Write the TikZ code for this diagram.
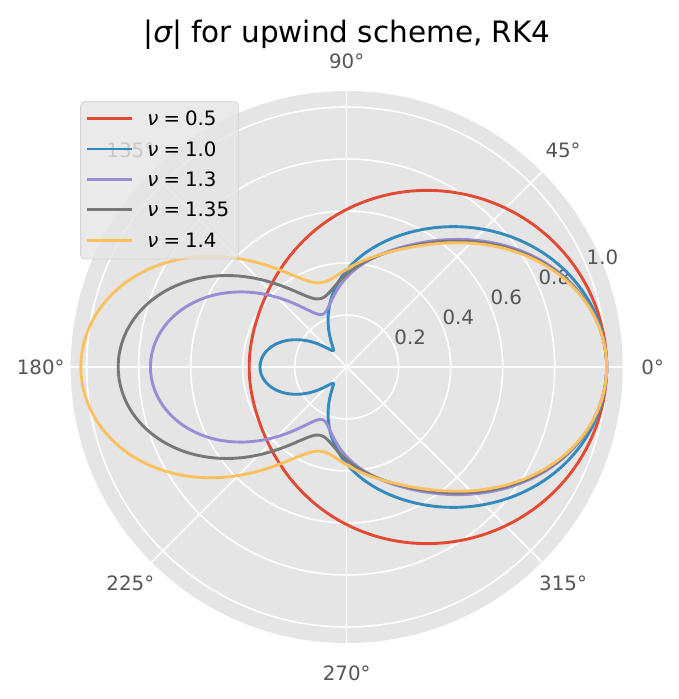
\documentclass[tikz,border=0pt]{standalone}
\usepackage{fontspec}
\setmainfont{DejaVu Sans}
\definecolor{bg}{HTML}{E5E5E5}
\definecolor{ticktxt}{HTML}{555555}
\definecolor{legedge}{HTML}{CCCCCC}
\definecolor{cred}{HTML}{E24A33}
\definecolor{cblue}{HTML}{348ABD}
\definecolor{cpurple}{HTML}{988ED5}
\definecolor{cgray}{HTML}{777777}
\definecolor{cyellow}{HTML}{FBC15E}
\tikzset{
  gridline/.style={draw=white, line width=1.6pt},
  curve/.style={line width=2.9pt, line join=round},
  ticklab/.style={text=ticktxt, font=\fontsize{19.8}{22}\selectfont, inner sep=0pt},
  legtxt/.style={text=black, font=\fontsize{19.8}{22}\selectfont, inner sep=0pt, anchor=base west},
  legline/.style={line width=2.9pt},
}
\newcommand{\nulab}[1]{{\itshape ν}\hspace{0.25em}=\hspace{0.25em}#1}
\begin{document}
\begin{tikzpicture}[x=1pt,y=1pt,
  declare function={
    Rr(\s,\m)=2*\m*sin(\s/2);
    SA(\s,\a)=1-\a*sin(\s/2)-\a*\a*cos(\s)/2+\a*\a*\a*sin(1.5*\s)/6+\a*\a*\a*\a*cos(2*\s)/24;
    SB(\s,\a)=\a*cos(\s/2)-\a*\a*sin(\s)/2-\a*\a*\a*cos(1.5*\s)/6+\a*\a*\a*\a*sin(2*\s)/24;
    MG(\a,\b)=sqrt((\a)*(\a)+(\b)*(\b));
    SG(\s,\m)=MG(SA(\s,Rr(\s,\m)),SB(\s,Rr(\s,\m)));
  }]
\useasboundingbox (-346.7,-332) rectangle (332.3,367);
\fill[white] (-346.7,-332) rectangle (332.3,367);
% polar background
\fill[bg] (0,0) circle[radius=276];
\foreach \rr in {52,104,156,208,260} \draw[gridline] (0,0) circle[radius=\rr];
\foreach \ang in {0,45,...,315} \draw[gridline] (0,0) -- (\ang:276);
% angular labels
\foreach \ang in {0,45,...,315} \node[ticklab] (ang\ang) at (\ang:306) {\ang°};
% radial labels
\foreach \rv in {0.2,0.4,0.6,0.8,1.0}
  \node[ticklab, xshift=15.5pt, yshift=10pt] (rad\rv) at (22.5:{\rv*260}) {\rv};
% curves
\draw[curve, cred] plot[domain=0:360, samples=721] (\x:{260*SG(\x,0.5)}) -- cycle;
\draw[curve, cblue] plot[domain=0:360, samples=721] (\x:{260*SG(\x,1.0)}) -- cycle;
\draw[curve, cpurple] plot[domain=0:360, samples=721] (\x:{260*SG(\x,1.3)}) -- cycle;
\draw[curve, cgray] plot[domain=0:360, samples=721] (\x:{260*SG(\x,1.35)}) -- cycle;
\draw[curve, cyellow] plot[domain=0:360, samples=721] (\x:{260*SG(\x,1.4)}) -- cycle;
% title
\node[inner sep=0pt, anchor=base, font=\fontsize{29.5}{34}\selectfont] (title) at (0.3,324.3)
  {|{\itshape σ}| for upwind scheme, RK4};
% legend
\node[draw=legedge, fill=bg, fill opacity=0.8, draw opacity=0.8, rounded corners=4pt,
      line width=0.9pt, minimum width=157.6pt, minimum height=157.3pt, inner sep=0pt]
      (legend) at (-187.2,186.65) {};
\coordinate (l1a) at (-259.4,248.7); \coordinate (l1b) at (-215,248.7);
\coordinate (l2a) at (-259.4,218.0); \coordinate (l2b) at (-215,218.0);
\coordinate (l3a) at (-259.4,187.7); \coordinate (l3b) at (-215,187.7);
\coordinate (l4a) at (-259.4,157.7); \coordinate (l4b) at (-215,157.7);
\coordinate (l5a) at (-259.4,126.7); \coordinate (l5b) at (-215,126.7);
\draw[legline, cred] (l1a) -- (l1b);
\draw[legline, cblue] (l2a) -- (l2b);
\draw[legline, cpurple] (l3a) -- (l3b);
\draw[legline, cgray] (l4a) -- (l4b);
\draw[legline, cyellow] (l5a) -- (l5b);
\node[legtxt] (t1) at (-199.4,241.5) {\nulab{0.5}};
\node[legtxt] (t2) at (-199.4,210.8) {\nulab{1.0}};
\node[legtxt] (t3) at (-199.4,180.5) {\nulab{1.3}};
\node[legtxt] (t4) at (-199.4,150.5) {\nulab{1.35}};
\node[legtxt] (t5) at (-199.4,119.5) {\nulab{1.4}};
\end{tikzpicture}
\end{document}
